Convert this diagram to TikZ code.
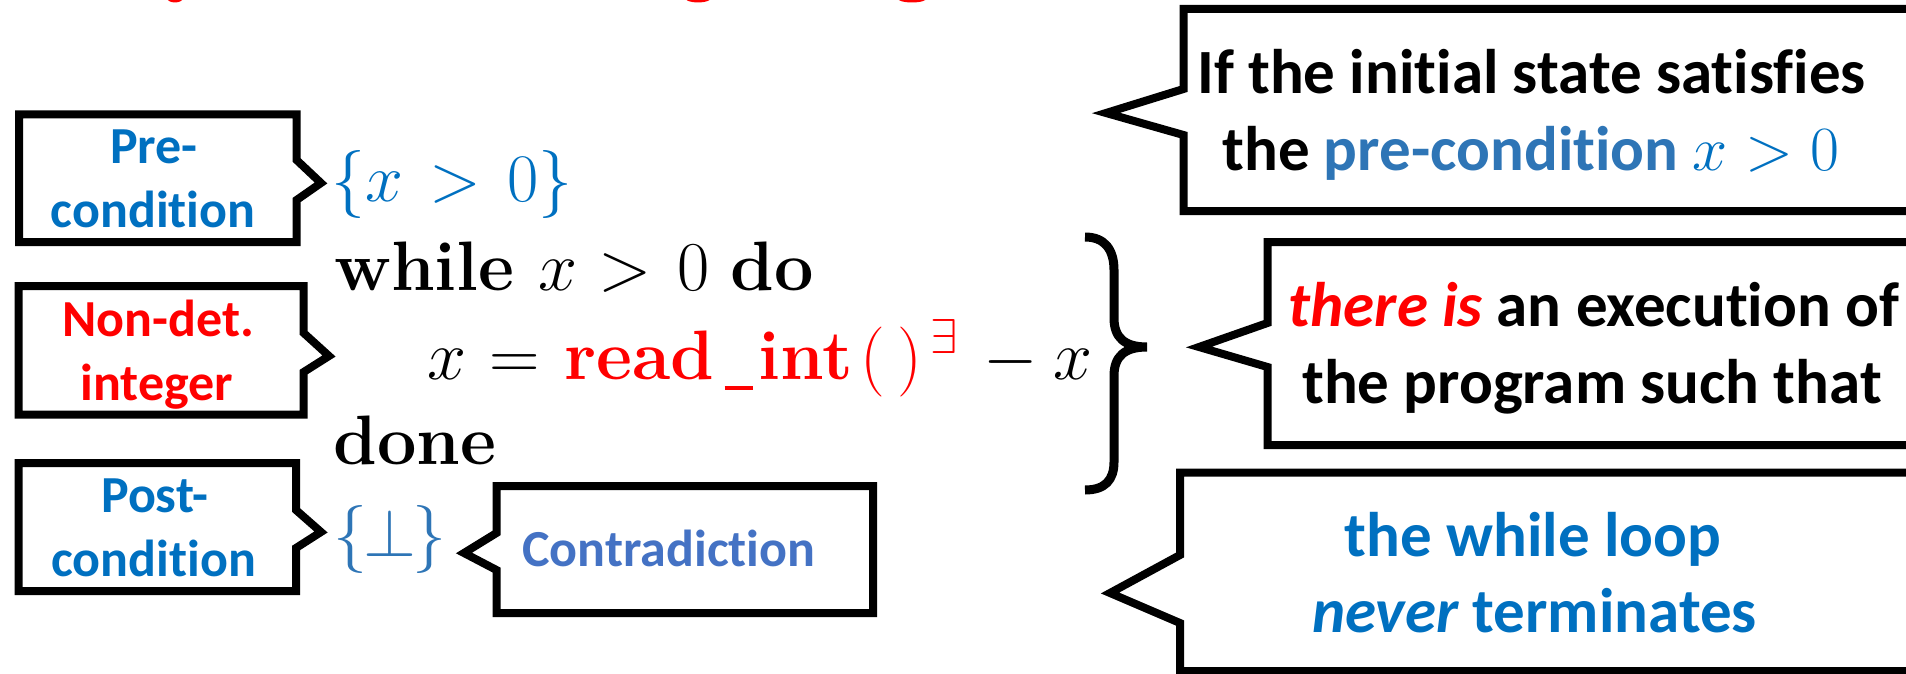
\RequirePackage{fix-cm}
\documentclass[tikz,border=0pt]{standalone}
\usepackage{fontspec}
\newfontfamily\calib[Ligatures=NoCommon]{Carlito}
\definecolor{pblue}{HTML}{0070C0}
\definecolor{lblue}{HTML}{2E75B6}
\definecolor{cblue}{HTML}{4472C4}
\definecolor{pred}{HTML}{FF0000}
\newcommand{\uscore}{\kern10pt\rule[-11pt]{28pt}{4.5pt}\kern6pt}
\tikzset{
  callout/.style={draw=black, line width=8pt, line join=miter, fill=white},
  openbox/.style={draw=black, line width=8pt, line join=miter},
  lab/.style={inner sep=0pt, anchor=base, font={\calib\fontsize{52}{63}\selectfont\bfseries}},
  rlab/.style={inner sep=0pt, anchor=base, font={\calib\fontsize{63}{77}\selectfont\bfseries}},
  code/.style={inner sep=0pt, anchor=base west, font={\fontsize{70}{84}\selectfont}},
  cond/.style={inner sep=0pt, anchor=base west, font={\fontsize{68}{82}\selectfont}},
  bracepath/.style={draw=black, line width=9pt, line cap=butt},
}
\begin{document}
\begin{tikzpicture}[x=1pt,y=-1pt]
\useasboundingbox (0,0) rectangle (1906,674);
\clip (0,0) rectangle (1906,674);
% remnants of the cut-off title
\fill[pred] (175,-2) ellipse [x radius=8pt, y radius=4.5pt];
\fill[pred] (698,-2) ellipse [x radius=13pt, y radius=4.5pt];
\fill[pred] (912,-2) ellipse [x radius=15pt, y radius=4.5pt];
% left callouts
\path[callout] (19,114.5) -- (296.6,114.5) -- (296.6,160) -- (321,183) -- (296.6,200) -- (296.6,242) -- (19,242) -- cycle;
\path[callout] (18.7,286) -- (303.7,286) -- (303.7,333) -- (329,356) -- (303.7,372) -- (303.7,414.5) -- (18.7,414.5) -- cycle;
\path[callout] (18.7,463) -- (296,463) -- (296,510) -- (321,532) -- (296,548) -- (296,591) -- (18.7,591) -- cycle;
\path[callout] (496.5,486) -- (873,486) -- (873,613) -- (496.5,613) -- (496.5,570) -- (464,553) -- (496.5,533) -- cycle;
% right callouts (cut by the right edge)
\path[openbox] (1920,8.8) -- (1183.5,8.8) -- (1183.5,89) -- (1106,113) -- (1183.5,135) -- (1183.5,211) -- (1920,211);
\path[openbox] (1920,242) -- (1267.5,242) -- (1267.5,323) -- (1199,347) -- (1267.5,367) -- (1267.5,445) -- (1920,445);
\path[openbox] (1920,472.5) -- (1180,472.5) -- (1180,555) -- (1110,593) -- (1180,623) -- (1180,671) -- (1920,671);
% right brace
\path[bracepath] (1085,237) .. controls (1105,237) and (1114,250) .. (1114,270) -- (1114,318)
  .. controls (1114,338) and (1125,347) .. (1147,347)
  .. controls (1125,347) and (1114,356) .. (1114,376) -- (1114,462)
  .. controls (1114,480) and (1105,490) .. (1085,490);
% left labels
\node[lab, text=pblue] (pre1) at (154,164) {Pre-};
\node[lab, text=pblue] (pre2) at (153,227) {condition};
\node[lab, text=pred] (nd1) at (158,336) {Non-det.};
\node[lab, text=pred] (nd2) at (157,400) {integer};
\node[lab, text=pblue] (post1) at (155,512.7) {Post-};
\node[lab, text=pblue] (post2) at (153.6,576) {condition};
\node[lab, text=cblue] (contra) at (669,566.7) {Contradiction};
% program
\node[cond, text=pblue] (precond) at (331,201) {$\{x\mathrel{\mkern2mu>\mkern2mu}0\}$};
\node[code] (wh) at (334,290) {\textbf{while}\kern23.5pt$x$\kern21pt$>$\kern26.5pt$0$\kern21pt\textbf{do}};
\node[code] (asg) at (427,379.3) {$x$\kern23pt$=$\kern25pt\textcolor{pred}{\textbf{read}\uscore\textbf{int}\kern8pt$($\kern12pt$)$\kern8pt${}^{\exists}$}\kern25pt$-$\kern15.5pt$x$};
\node[code] (dn) at (333.6,464) {\textbf{done}};
\node[cond, text=lblue] (postcond) at (333,556.7) {$\{\mkern-1mu\bot\mkern-1mu\}$};
% right texts
\node[rlab] (r1a) at (1531.5,93.3) {If the initial state satisfies};
\node[rlab] (r1b) at (1531,170) {the \textcolor{lblue}{pre-condition} \textcolor{pblue}{$x>0$}};
\node[rlab] (r2a) at (1594,326) {\textcolor{pred}{\itshape there is} an execution of};
\node[rlab] (r2b) at (1592,403.3) {the program such that};
\node[rlab, text=pblue] (r3a) at (1533,556.7) {the while loop};
\node[rlab, text=pblue] (r3b) at (1534.5,632.7) {{\itshape never} terminates};
\end{tikzpicture}
\end{document}
